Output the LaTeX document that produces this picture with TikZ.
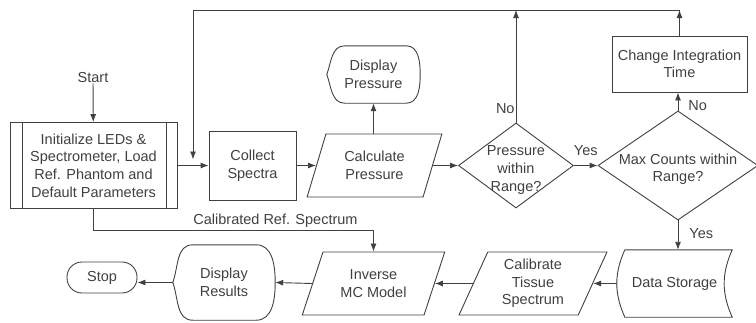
\documentclass[tikz,border=0pt]{standalone}
\usepackage{fontspec}
\setmainfont{Liberation Sans}
\usetikzlibrary{positioning,shapes.geometric,arrows.meta}

\begin{document}
\begin{tikzpicture}[x=1pt,y=-1pt,
		flowline/.style={draw=black!75, line width=0.9pt},
		arr/.style={flowline, -{Latex[length=8pt,width=6pt]}},
		txt/.style={font=\fontsize{14.5}{17.6}\selectfont, text=black!75, align=center, inner sep=0pt},
		procbox/.style={txt, flowline, rectangle},
		plainbox/.style={txt, rectangle},
		iobox/.style={txt, flowline, trapezium, trapezium stretches=true},
		decbox/.style={txt, flowline, diamond, inner sep=-12pt},
		termbox/.style={txt, flowline, rectangle, rounded corners=15pt},
		lbl/.style={txt, inner sep=1pt},
		]
	\useasboundingbox (0,0) rectangle (756,322);

		%Nodes
	\node[txt]	(start)	at (93,78)	{Start};
	\node[procbox, minimum width=167pt, minimum height=86pt]	(init)	at (93.5,165.5)	{Initialize LEDs \&\\Spectrometer, Load\\Ref. Phantom and\\Default Parameters};
	\node[procbox, minimum width=87pt, minimum height=69pt]	(collect)	at (252.5,165.5)	{Collect\\Spectra};
	\node[iobox, minimum width=135pt, minimum height=63pt, trapezium left angle=67.5, trapezium right angle=112.5]	(calcp)	at (374.5,165.5)	{Calculate\\Pressure};
	\node[plainbox, minimum width=93pt, minimum height=57pt]	(dispp)	at (373.5,74.5)	{Display\\Pressure};
	\node[decbox, minimum width=115pt, minimum height=85pt]	(dec1)	at (516,165.5)	{\rule{0pt}{19pt}Pressure\\within\\Range?};
	\node[decbox, minimum width=160pt, minimum height=95pt]	(dec2)	at (678,165.5)	{\rule{0pt}{18pt}Max Counts within\\Range?};
	\node[procbox, minimum width=135pt, minimum height=56pt]	(chg)	at (679.5,64)	{Change Integration\\Time};
	\node[plainbox, minimum width=115pt, minimum height=67pt]	(dstore)	at (674.5,283.5)	{Data Storage};
	\node[iobox, minimum width=148pt, minimum height=63pt, trapezium left angle=68, trapezium right angle=112]	(calts)	at (533,283.5)	{Calibrate\\Tissue\\Spectrum};
	\node[iobox, minimum width=143pt, minimum height=63pt, trapezium left angle=64, trapezium right angle=116]	(inv)	at (373.5,283.5)	{Inverse\\MC Model};
	\node[plainbox, minimum width=102pt, minimum height=75pt]	(disres)	at (224,282.5)	{Display\\Results};
	\node[termbox, minimum width=70pt, minimum height=31pt]	(stop)	at (102,277.5)	{Stop};

		%Shapes
	\draw[flowline] ([xshift=13pt]init.north west) -- ([xshift=13pt]init.south west);
	\draw[flowline] ([xshift=-11pt]init.north east) -- ([xshift=-11pt]init.south east);
	\draw[flowline] ([xshift=18pt]dispp.north west) -- ([xshift=-14pt]dispp.north east) to[out=0,in=90] (dispp.east) to[out=-90,in=0] ([xshift=-14pt]dispp.south east) -- ([xshift=18pt]dispp.south west) to[out=180,in=-70] (dispp.west) to[out=70,in=180] ([xshift=18pt]dispp.north west);
	\draw[flowline] ([xshift=20pt]disres.north west) -- ([xshift=-19pt]disres.north east) to[out=0,in=90] (disres.east) to[out=-90,in=0] ([xshift=-19pt]disres.south east) -- ([xshift=20pt]disres.south west) to[out=180,in=-70] (disres.west) to[out=70,in=180] ([xshift=20pt]disres.north west);
	\draw[flowline] ([xshift=8pt]dstore.north west) -- (dstore.north east) to[bend right=24] (dstore.south east) -- ([xshift=8pt]dstore.south west) to[bend left=24] ([xshift=8pt]dstore.north west);

		%Lines
	\coordinate (loopR) at (chg.north |- 0,10);
	\coordinate (loopL) at (193,10);
	\draw[arr]	(start) -- (init);
	\draw[arr]	(init.east) -- (collect.west);
	\draw[arr]	(collect.east) -- (calcp.left side);
	\draw[arr]	(calcp.north -| dispp.south) -- (dispp.south);
	\draw[arr]	(calcp.right side) -- (dec1.west);
	\draw[arr]	(dec1.east) -- node[lbl, above=8pt] {Yes} (dec2.west);
	\draw[arr]	(dec2.north) -- node[lbl, right=9pt, pos=0.3] {No} (dec2.north |- chg.south);
	\draw[arr]	(dec2.south) -- node[lbl, right=10pt, pos=0.45] {Yes} (dec2.south |- dstore.north);
	\draw[arr]	(chg.north) -- (loopR);
	\draw[arr]	(dec1.north) -- node[lbl, left, pos=0.12] {No} (dec1.north |- loopL);
	\draw[arr, shorten >=6pt]	(loopR) -- (loopL) -- (loopL |- collect.west);
	\draw[arr]	(dstore.west) -- (calts.right side);
	\draw[arr]	(calts.left side) -- (inv.right side);
	\draw[arr]	(inv.left side) -- (disres.east);
	\draw[arr]	(disres.west) -- (disres.west -| stop.east);
	\draw[arr]	(init.south) -- ++(0,21.5) -| node[lbl, above=1pt, pos=0.325] {Calibrated Ref. Spectrum} (inv.center |- inv.north);
\end{tikzpicture}
\end{document}
